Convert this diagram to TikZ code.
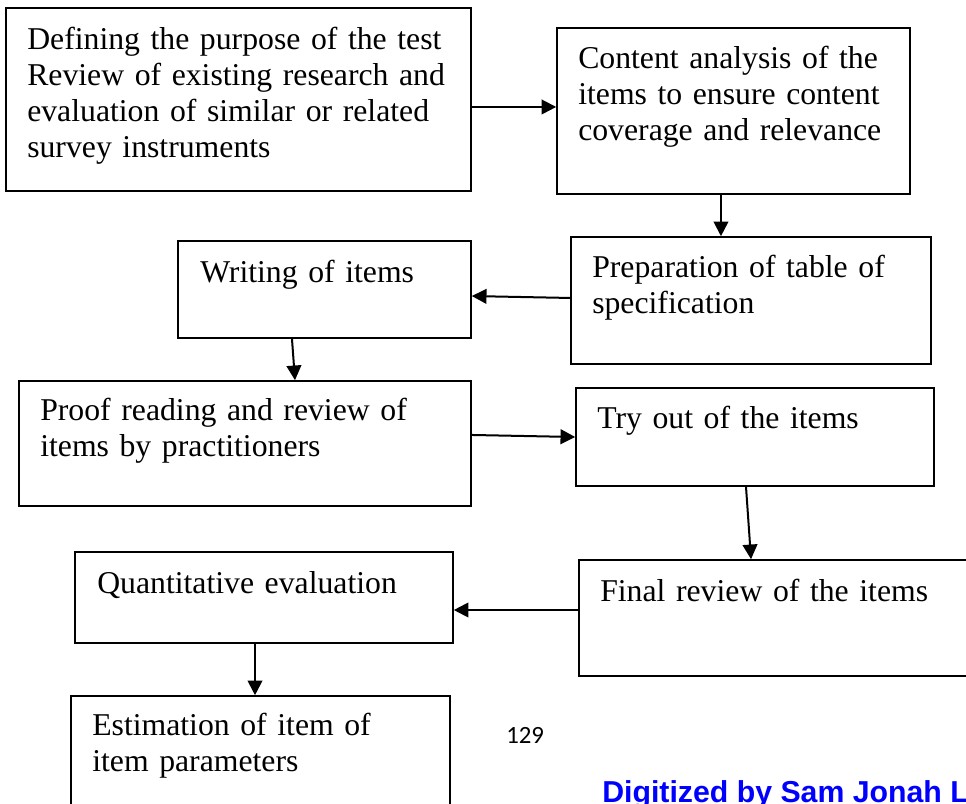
\documentclass[tikz,border=0pt]{standalone}
\usepackage{fontspec}
\setmainfont{Liberation Serif}
\newfontfamily\carlitofont{Carlito}
\newfontfamily\libsansfont{Liberation Sans}
\usetikzlibrary{arrows.meta,fit}
\tikzset{
  box/.style={draw=black, line width=1.2pt, fill=white, inner sep=0pt},
  txt/.style={anchor=base west, inner sep=0pt, align=left, text width=480pt,
              font=\fontsize{23.8pt}{27pt}\selectfont},
  arr/.style={line width=1.5pt, -{Triangle[length=11pt,width=11pt]}},
}
\begin{document}
\begin{tikzpicture}[x=0.75pt,y=-0.75pt]
\useasboundingbox (0,0) rectangle (966,803);
\fill[white] (0,0) rectangle (966,803);
\clip (0,0) rectangle (966,803);
% boxes and texts
\node[box, fit={(6,8) (471,191)}] (b1) {};
\node[txt] (t1) at (27,49) {Defining the purpose of the test\\Review of existing research and\\evaluation of similar or related\\survey instruments};
\node[box, fit={(557,28) (910,194)}] (b2) {};
\node[txt] (t2) at (578,68) {Content analysis of the\\items to ensure content\\coverage and relevance};
\node[box, fit={(571,237) (931,364)}] (b3) {};
\node[txt] (t3) at (592,277) {Preparation of table of\\specification};
\node[box, fit={(178,241) (471,338)}] (b4) {};
\node[txt] (t4) at (200,282) {Writing of items};
\node[box, fit={(19,381) (471,506)}] (b5) {};
\node[txt] (t5) at (40,420) {Proof reading and review of\\items by practitioners};
\node[box, fit={(576,388) (934,486)}] (b6) {};
\node[txt] (t6) at (597,428) {Try out of the items};
\node[box, fit={(579,560) (990,676)}] (b7) {};
\node[txt] (t7) at (600,601) {Final review of the items};
\node[box, fit={(75,552) (453,643)}] (b8) {};
\node[txt] (t8) at (97,593) {Quantitative evaluation};
\node[box, fit={(71,696) (450,830)}] (b9) {};
\node[txt] (t9) at (92,735) {Estimation of item of\\item parameters};
\node[anchor=base west, inner sep=0pt, font=\carlitofont\fontsize{18.6pt}{22pt}\selectfont] (pg) at (506,743) {129};
\node[anchor=base west, inner sep=0pt, text=blue, font=\libsansfont\bfseries\fontsize{22.7pt}{27pt}\selectfont] (dg) at (602,802) {Digitized by Sam Jonah L};
% connectors
\draw[arr] ([yshift=-5.6pt]b1.east) coordinate (a1s) -- (a1s -| b2.west);
\draw[arr] ([xshift=-9.4pt]b2.south) coordinate (a2s) -- (a2s |- b3.north);
\draw[arr] ([yshift=1.9pt]b3.west) -- ([yshift=-4.9pt]b4.east);
\draw[arr] ([xshift=-24.4pt]b4.south) -- ([xshift=37.5pt]b5.north);
\draw[arr] ([yshift=6.4pt]b5.east) -- (b6.west);
\draw[arr] ([xshift=-6.75pt]b6.south) -- ([xshift=-25.1pt]b7.north);
\draw[arr] ([yshift=6pt]b7.west) coordinate (a7s) -- (a7s -| b8.east);
\draw[arr] ([xshift=-6.75pt]b8.south) coordinate (a8s) -- (a8s |- b9.north);
\end{tikzpicture}
\end{document}
